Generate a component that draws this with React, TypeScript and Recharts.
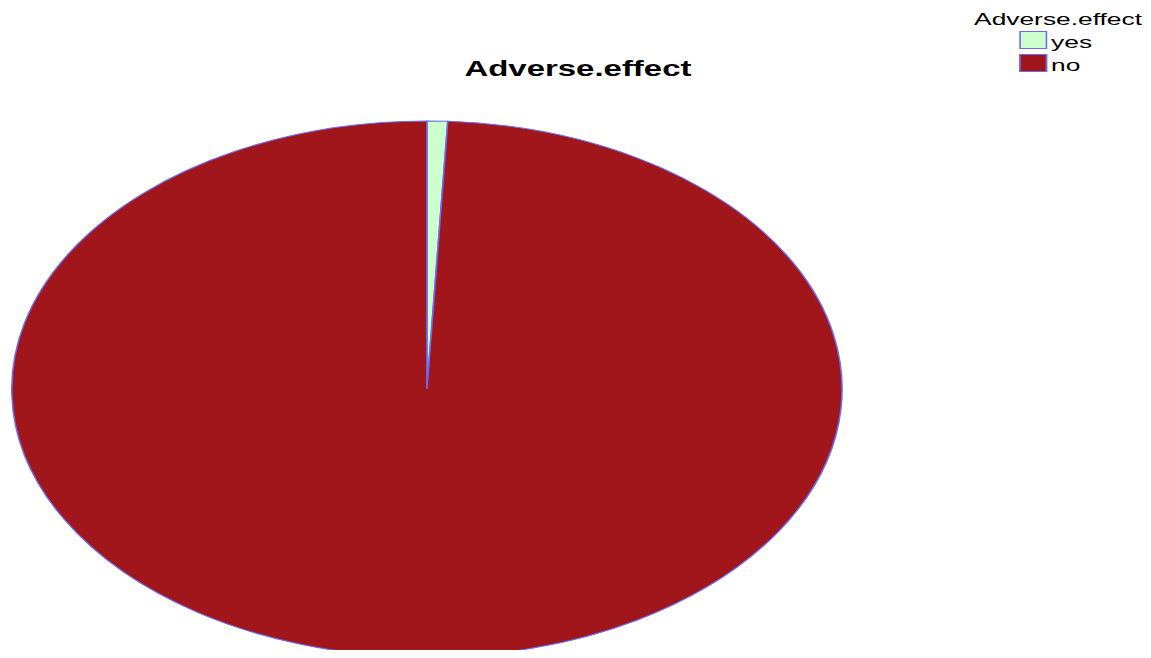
import React from 'react';
import { PieChart, Pie, Cell, Legend } from 'recharts';

// categories and counts (yes is a thin ~0.8% sliver)
const categories = ['yes', 'no'];
const counts = [1, 124];
const sliceColors = ['#CCFFCC', '#A0161B'];
const chartTitle = 'Adverse.effect';
const legendTitle = 'Adverse.effect';

const data = categories.map((name, i) => ({ name, value: counts[i], color: sliceColors[i] }));

// the reference is stretched sideways, so the chart is drawn narrow then scaled
const outW = 1151;
const outH = 658;
const stretch = 1.5491;
const innerW = outW / stretch;

const font = '"Liberation Sans", Arial, sans-serif';
const edge = '#6b6bf5';

const LegendBox = (props: any) => {
    // keep the legend in category order (recharts sorts it by name otherwise)
    const payload = [...(props.payload || [])].sort(
        (a: any, b: any) => categories.indexOf(a.value) - categories.indexOf(b.value)
    );
    return (
        <div style={{ fontFamily: font, fontSize: 17, lineHeight: '23px', color: '#000', width: 110 }}>
            <div style={{ textAlign: 'center', whiteSpace: 'nowrap' }}>{legendTitle}</div>
            {payload.map((entry: any, index: number) => (
                <div key={`leg-${index}`} style={{ display: 'flex', alignItems: 'flex-start', paddingLeft: 30 }}>
                    <span
                        style={{
                            display: 'inline-block',
                            boxSizing: 'border-box',
                            width: 17.5,
                            height: 18,
                            background: entry.color,
                            border: `1.5px solid ${edge}`,
                            marginRight: 3,
                        }}
                    />
                    <span>{entry.value}</span>
                </div>
            ))}
        </div>
    );
};

const App: React.FC = () => {
    return (
        <div style={{ margin: -8, width: outW, height: outH, overflow: 'hidden', background: '#fff' }}>
            <div style={{ width: innerW, height: outH, transform: `scaleX(${stretch})`, transformOrigin: '0 0' }}>
                <PieChart width={innerW} height={outH} margin={{ top: 0, right: 0, bottom: 0, left: 0 }}>
                    <text
                        x={373.1}
                        y={76}
                        textAnchor="middle"
                        fontFamily={font}
                        fontWeight="bold"
                        fontSize={22}
                        textLength={146.5}
                        lengthAdjust="spacingAndGlyphs"
                        fill="#000"
                    >
                        {chartTitle}
                    </text>
                    <Pie
                        data={data}
                        dataKey="value"
                        nameKey="name"
                        cx={275.6}
                        cy={389}
                        outerRadius={268}
                        startAngle={90}
                        endAngle={-270}
                        stroke={edge}
                        strokeWidth={1}
                        isAnimationActive={false}
                    >
                        {data.map((entry, index) => (
                            <Cell key={`cell-${index}`} fill={entry.color} />
                        ))}
                    </Pie>
                    <Legend
                        layout="vertical"
                        align="right"
                        verticalAlign="top"
                        content={LegendBox}
                        wrapperStyle={{ top: 8, left: 628, right: 'auto', width: 110 }}
                    />
                </PieChart>
            </div>
        </div>
    );
};

export default App;
